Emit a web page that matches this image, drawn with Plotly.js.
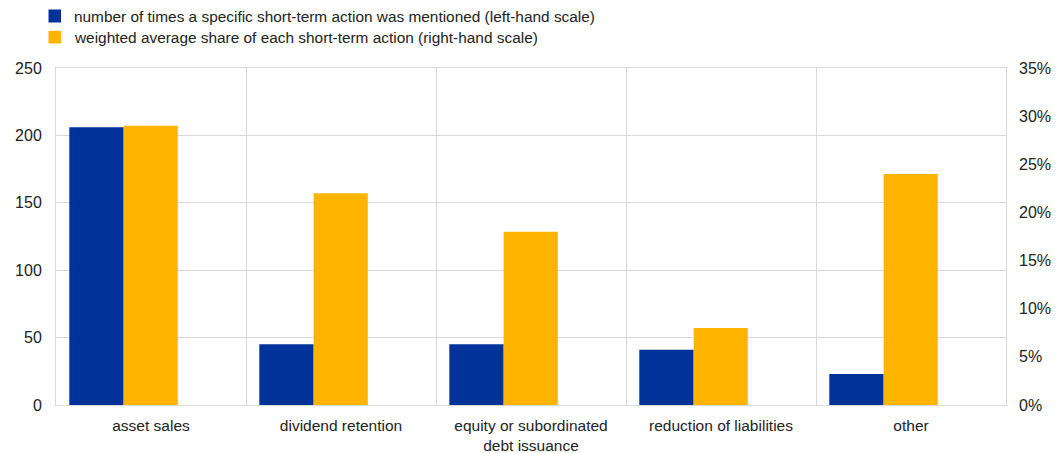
<!DOCTYPE html>
<html>
<head>
<meta charset="utf-8">
<script src="https://cdn.plot.ly/plotly-3.0.1.min.js"></script>
<style>
  html, body { margin: 0; padding: 0; background: #ffffff; }
  #chart { width: 1061px; height: 453px; }
</style>
</head>
<body>
<div id="chart"></div>
<script>
// Short-term actions: categories and the two series
const categories = [
  'asset sales',
  'dividend retention',
  'equity or subordinated<br>debt issuance',
  'reduction of liabilities',
  'other'
];
const mentionCounts = [206, 45, 45, 41, 23];              // left-hand scale
const weightedShares = [0.29, 0.22, 0.18, 0.08, 0.24];    // right-hand scale
const leftTicks = [0, 50, 100, 150, 200, 250];
const rightTicks = [0, 0.05, 0.10, 0.15, 0.20, 0.25, 0.30, 0.35];
const seriesNames = [
  'number of times a specific short-term action was mentioned (left-hand scale)',
  'weighted average share of each short-term action (right-hand scale)'
];
const seriesColors = ['#003299', '#FFB400'];

const positions = categories.map((_, i) => i);
const gridColor = '#d9d9d9';
const fontFamily = 'Liberation Sans, Arial, sans-serif';
const textColor = '#222222';

const traces = [
  {
    type: 'bar',
    name: seriesNames[0],
    x: positions,
    y: mentionCounts,
    yaxis: 'y',
    width: 0.286,
    offset: -0.430,
    marker: { color: seriesColors[0], line: { width: 0 } },
    hoverinfo: 'y'
  },
  {
    type: 'bar',
    name: seriesNames[1],
    x: positions,
    y: weightedShares,
    yaxis: 'y2',
    width: 0.285,
    offset: -0.144,
    marker: { color: seriesColors[1], line: { width: 0 } },
    hoverinfo: 'y'
  }
];

// Legend drawn above the plot area: a colour key square and a label per series
const keyRows = [
  { top: 1.1736, bottom: 1.135, mid: 1.1543 },
  { top: 1.1104, bottom: 1.0727, mid: 1.0905 }
];
const legendShapes = keyRows.map((row, i) => ({
  type: 'rect', xref: 'paper', yref: 'paper',
  x0: -0.0079, x1: 0.0053, y0: row.bottom, y1: row.top,
  fillcolor: seriesColors[i], line: { width: 0 }
}));
const legendLabels = keyRows.map((row, i) => ({
  xref: 'paper', yref: 'paper',
  x: 0.0168, y: row.mid, xanchor: 'left', yanchor: 'middle',
  text: seriesNames[i], showarrow: false,
  font: { family: fontFamily, size: 15.4, color: textColor }
}));

const layout = {
  width: 1061,
  height: 453,
  margin: { l: 56, r: 55, t: 68, b: 48 },
  paper_bgcolor: '#ffffff',
  plot_bgcolor: '#ffffff',
  font: { family: fontFamily, size: 16, color: textColor },
  barmode: 'overlay',
  showlegend: false,
  shapes: legendShapes,
  annotations: legendLabels,
  xaxis: {
    range: [-0.5, positions.length - 0.5],
    tickmode: 'array',
    tickvals: positions,
    ticktext: categories,
    ticks: '',
    ticklabelstandoff: 6,
    showgrid: false,
    zeroline: false,
    showline: true,
    mirror: true,
    linecolor: gridColor,
    linewidth: 1,
    minor: { tick0: -0.5, dtick: 1, showgrid: true, gridcolor: gridColor, gridwidth: 1, ticks: '' },
    tickfont: { family: fontFamily, size: 15.5, color: textColor },
    fixedrange: true
  },
  yaxis: {
    range: [0, 250],
    tickmode: 'array',
    tickvals: leftTicks,
    ticks: '',
    ticklabelstandoff: 10,
    showgrid: true,
    gridcolor: gridColor,
    gridwidth: 1,
    zeroline: false,
    showline: true,
    mirror: true,
    linecolor: gridColor,
    tickfont: { family: fontFamily, size: 16, color: textColor },
    fixedrange: true
  },
  yaxis2: {
    overlaying: 'y',
    side: 'right',
    range: [0, 0.35],
    tickmode: 'array',
    tickvals: rightTicks,
    tickformat: '.0%',
    ticks: '',
    ticklabelstandoff: 12,
    showgrid: false,
    zeroline: false,
    showline: false,
    tickfont: { family: fontFamily, size: 16, color: textColor },
    fixedrange: true
  }
};

Plotly.newPlot('chart', traces, layout, { displayModeBar: false, staticPlot: true });
</script>
</body>
</html>
